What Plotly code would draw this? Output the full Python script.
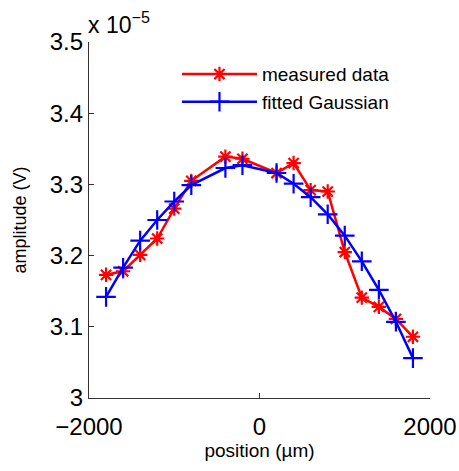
import plotly.graph_objects as go

# positions in micrometres
position_um = [-1800, -1600, -1400, -1200, -1000, -800, -400, -200,
               200, 400, 600, 800, 1000, 1200, 1400, 1600, 1800]
# amplitudes in units of 1e-5 V
measured = [3.173, 3.178, 3.201, 3.224, 3.266, 3.305, 3.339, 3.336,
            3.316, 3.330, 3.292, 3.290, 3.205, 3.141, 3.128, 3.111, 3.086]
fitted = [3.142, 3.183, 3.221, 3.250, 3.276, 3.299, 3.323, 3.327,
          3.316, 3.301, 3.282, 3.258, 3.228, 3.192, 3.152, 3.107, 3.056]

x_ticks = [-2000, 0, 2000]
x_tick_text = ["\u22122000", "0", "2000"]
y_ticks = [3.0, 3.1, 3.2, 3.3, 3.4, 3.5]
y_tick_text = ["3", "3.1", "3.2", "3.3", "3.4", "3.5"]

FONT = "Liberation Sans, Arial, Helvetica, sans-serif"

fig = go.Figure()
fig.add_trace(go.Scatter(
    x=position_um, y=measured, mode="lines+markers", name="measured data",
    line=dict(color="#ff0000", width=2.5),
    marker=dict(symbol="asterisk-open", size=12, color="#ff0000",
                line=dict(color="#ff0000", width=2.2)),
))
fig.add_trace(go.Scatter(
    x=position_um, y=fitted, mode="lines+markers", name="fitted Gaussian",
    line=dict(color="#0000ff", width=2.5),
    marker=dict(symbol="cross-thin-open", size=14, color="#0000ff",
                line=dict(color="#0000ff", width=2.2)),
))

axis_common = dict(
    showgrid=False, zeroline=False, showline=True, linecolor="#333333",
    linewidth=1.2, ticks="inside", ticklen=5, tickcolor="#333333",
    tickwidth=1, mirror=False, automargin=False,
    tickfont=dict(family=FONT, size=24, color="#000000"),
)

fig.update_layout(
    width=459, height=471,
    margin=dict(l=89, r=29, t=42, b=73),
    paper_bgcolor="white", plot_bgcolor="white",
    font=dict(family=FONT, color="#000000"),
    showlegend=True,
    legend=dict(x=0.258, y=0.963, xanchor="left", yanchor="top",
                bgcolor="rgba(0,0,0,0)", borderwidth=0,
                font=dict(family=FONT, size=19, color="#000000"),
                itemwidth=75, tracegroupgap=0),
    xaxis=dict(range=[-2000, 2000], tickvals=x_ticks, ticktext=x_tick_text,
               ticklabelstandoff=7,
               title=dict(text="position (\u00b5m)", font=dict(family=FONT, size=19),
                          standoff=4),
               **axis_common),
    yaxis=dict(range=[3.0, 3.5], tickvals=y_ticks, ticktext=y_tick_text,
               title=dict(text="amplitude (V)", font=dict(family=FONT, size=18),
                          standoff=18),
               **axis_common),
    annotations=[dict(
        text="x 10<sup>\u22125</sup>", xref="paper", yref="paper",
        x=0.0, y=1.0, xanchor="left", yanchor="bottom", yshift=2, xshift=-3,
        showarrow=False, font=dict(family=FONT, size=23, color="#000000"),
    )],
)

fig.write_html("out.html")
